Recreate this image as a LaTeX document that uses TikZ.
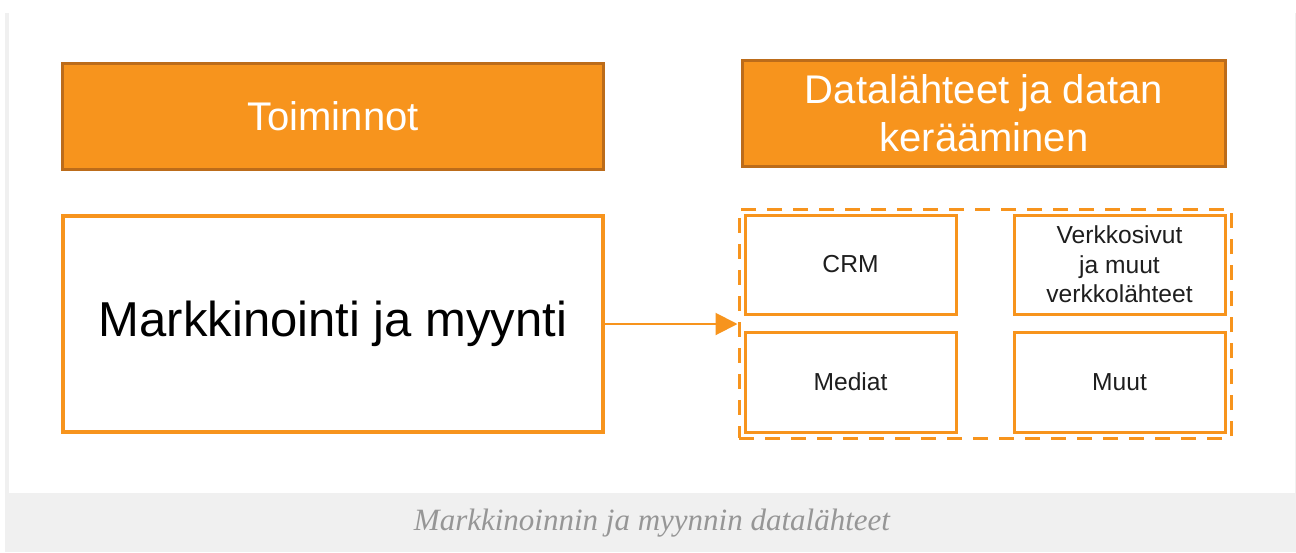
\documentclass[tikz,border=0pt]{standalone}
\usepackage{fontspec}
\setmainfont{Liberation Sans}
\newfontfamily\capfont{Liberation Serif}
\usetikzlibrary{arrows.meta}

\definecolor{orng}{RGB}{247,148,29}
\definecolor{orngdark}{RGB}{188,108,26}
\definecolor{pagegrey}{RGB}{240,240,240}
\definecolor{captext}{RGB}{150,150,150}
\definecolor{ink}{RGB}{30,30,30}

\tikzset{
  hdr/.style={draw=orngdark, fill=orng, line width=1.5pt, text=white,
    font=\fontsize{20}{24}\selectfont, align=center, inner sep=0pt},
  bigbox/.style={draw=orng, fill=white, line width=1.6pt, text=black,
    font=\fontsize{24.5}{29}\selectfont, inner sep=0pt},
  groupbox/.style={draw=orng, line width=1.5pt, dash pattern=on 7.5pt off 5.5pt,
    inner sep=0pt},
  srcbox/.style={draw=orng, fill=white, line width=1.5pt, text=ink,
    font=\fontsize{12.3}{14.8}\selectfont, align=center, inner sep=0pt,
    minimum width=105.5pt},
  flow/.style={draw=orng, line width=1pt, -{Triangle[length=11pt,width=11pt]}},
}

\begin{document}
\begin{tikzpicture}[x=0.5pt, y=-0.5pt]
  \useasboundingbox (0,0) rectangle (1296,552);
  % page background and caption band
  \fill[white] (0,0) rectangle (1296,552);
  \fill[pagegrey] (5,13) rectangle (1296,552);
  \fill[white] (9,0) rectangle (1295,493);

  % column headers
  \node[hdr, minimum width=270.5pt, minimum height=53pt] (toim) at (333,116) {Toiminnot};
  \node[hdr, minimum width=241.5pt, minimum height=53pt] (data) at (984,113.5)
    {Datalähteet ja datan\\kerääminen};

  % activity box
  \node[bigbox, minimum width=270pt, minimum height=108pt] (mark) at (333,324)
    {Markkinointi ja myynti};

  % group of data sources
  \node[groupbox, minimum width=246pt, minimum height=114.5pt] (group) at (985,323.5) {};
  \node[srcbox, minimum height=49.5pt] (crm) at (850.5,264.5) {CRM};
  \node[srcbox, minimum height=49.5pt] (web) at (1119.5,264.5)
    {Verkkosivut\\ja muut\\verkkolähteet};
  \node[srcbox, minimum height=50pt] (media) at (850.5,382) {Mediat};
  \node[srcbox, minimum height=50pt] (other) at (1119.5,382) {Muut};

  % connector
  \draw[flow] (mark.east) -- (mark.east -| group.west);

  % caption
  \node[text=captext, font=\capfont\itshape\fontsize{15.5}{18}\selectfont]
    (cap) at (652,523) {Markkinoinnin ja myynnin datalähteet};
\end{tikzpicture}
\end{document}
